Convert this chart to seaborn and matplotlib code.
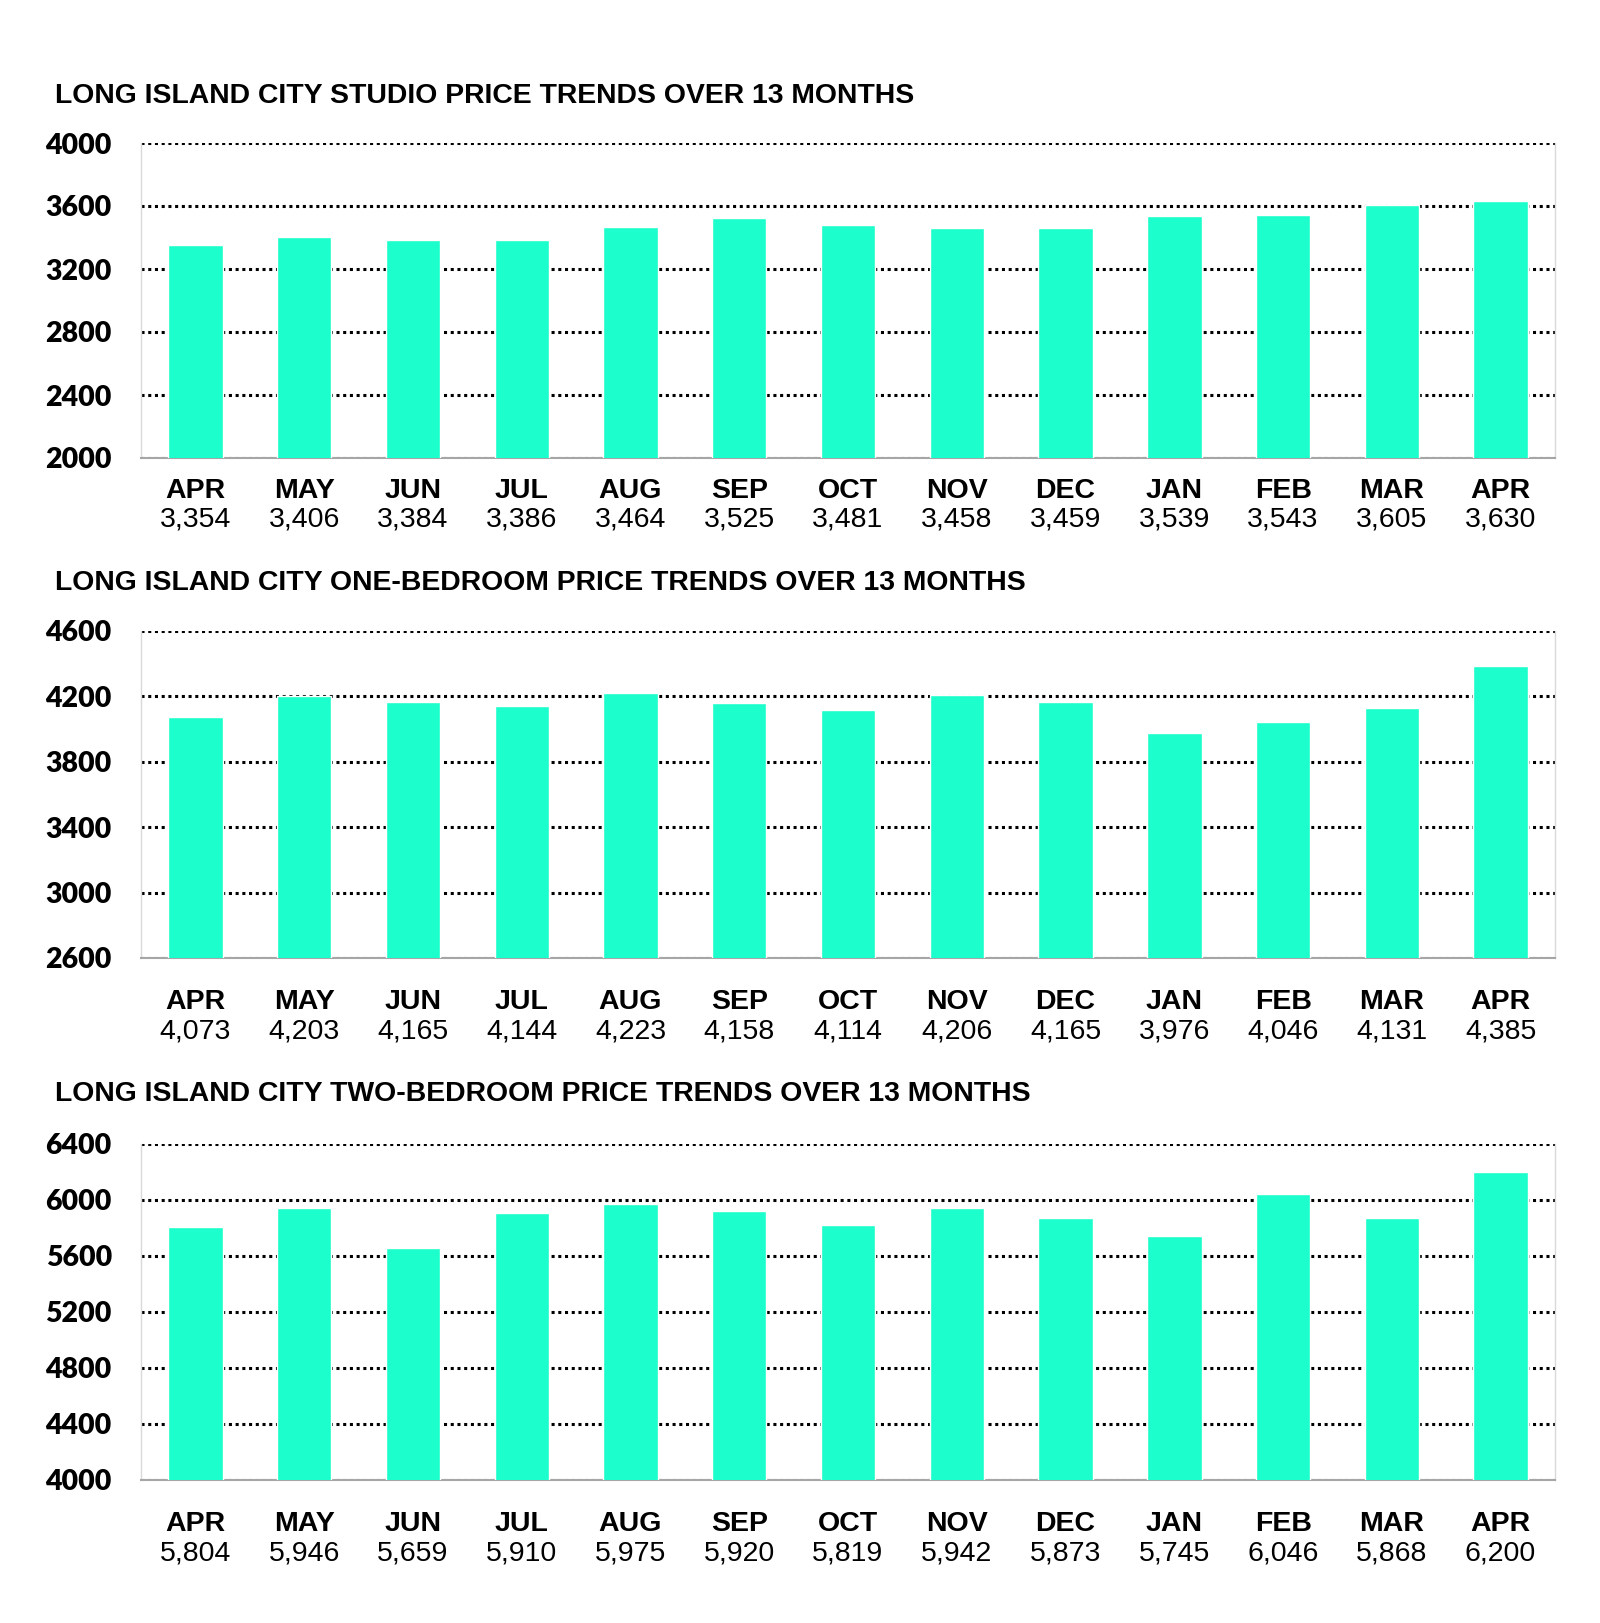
import matplotlib
matplotlib.use("Agg")
import matplotlib.pyplot as plt
import numpy as np
import pandas as pd
import seaborn as sns

sns.set_theme(style="white")
plt.rcParams["font.family"] = ["Liberation Sans", "DejaVu Sans"]
plt.rcParams["text.color"] = "black"
plt.rcParams["ytick.color"] = "black"

months = ["APR", "MAY", "JUN", "JUL", "AUG", "SEP", "OCT",
          "NOV", "DEC", "JAN", "FEB", "MAR", "APR"]
studio = [3354, 3406, 3384, 3386, 3464, 3525, 3481, 3458, 3459, 3539, 3543, 3605, 3630]
one_bed = [4073, 4203, 4165, 4144, 4223, 4158, 4114, 4206, 4165, 3976, 4046, 4131, 4385]
two_bed = [5804, 5946, 5659, 5910, 5975, 5920, 5819, 5942, 5873, 5745, 6046, 5868, 6200]

titles = [
    "LONG ISLAND CITY STUDIO PRICE TRENDS OVER 13 MONTHS",
    "LONG ISLAND CITY ONE-BEDROOM PRICE TRENDS OVER 13 MONTHS",
    "LONG ISLAND CITY TWO-BEDROOM PRICE TRENDS OVER 13 MONTHS",
]
y_ranges = [(2000, 4000, 400), (2600, 4600, 400), (4000, 6400, 400)]

BAR = "#1cffcc"
W, H = 1600, 1623

# (top_px, bottom_px, title_px, month_offset, value_offset) in figure pixels
panels = [(143, 458, 96, 33, 61),
          (631, 958, 583, 44, 73),
          (1144, 1480, 1094, 44, 73)]

fig = plt.figure(figsize=(W / 100, H / 100), dpi=100)

for series, title, (lo, hi, step), (top, bot, ty, mo, vo) in zip(
        [studio, one_bed, two_bed], titles, y_ranges, panels):
    ax = fig.add_axes([141 / W, 1 - bot / H, (1555 - 141) / W, (bot - top) / H])
    df = pd.DataFrame({"slot": np.arange(len(months)), "price": series})
    sns.barplot(data=df, x="slot", y="price", color=BAR, saturation=1,
                width=0.5, ax=ax, zorder=3)
    ax.set_xlim(-0.5, len(months) - 0.5)
    ax.set_ylim(lo, hi)
    ax.set_yticks(np.arange(lo, hi + 1, step))
    ax.set_yticklabels([str(v) for v in range(lo, hi + 1, step)],
                       fontfamily="Lato", fontweight="heavy", fontsize=20.5)
    ax.tick_params(axis="y", length=0, pad=21)
    ax.set_xlabel("")
    ax.set_ylabel("")
    ax.set_xticks(np.arange(-0.5, len(months), 1.0))
    ax.set_xticklabels([])
    ax.tick_params(axis="x", length=6, width=1.5, color="#a6a6a6", direction="out")
    ax.yaxis.grid(True, linestyle=(0, (1, 1.2)), color="black", linewidth=2.2, zorder=0)
    ax.set_axisbelow(True)
    for side in ["left", "right"]:
        ax.spines[side].set_color("#d9d9d9")
        ax.spines[side].set_linewidth(1)
    ax.spines["top"].set_visible(False)
    ax.spines["bottom"].set_color("#a6a6a6")
    ax.spines["bottom"].set_linewidth(1.5)

    trans = ax.get_xaxis_transform()
    for i, (m, v) in enumerate(zip(months, series)):
        ax.annotate(m, (i, 0), xycoords=trans, xytext=(0, -mo),
                    textcoords="offset pixels", ha="center", va="center",
                    fontsize=20.5, fontweight="bold")
        ax.annotate(f"{v:,}", (i, 0), xycoords=trans, xytext=(0, -vo),
                    textcoords="offset pixels", ha="center", va="center",
                    fontsize=20.5)

    fig.text(55 / W, 1 - ty / H, title, ha="left", va="center",
             fontsize=20.4, fontweight="bold")

fig.savefig("out.png", dpi=100, facecolor="white")
